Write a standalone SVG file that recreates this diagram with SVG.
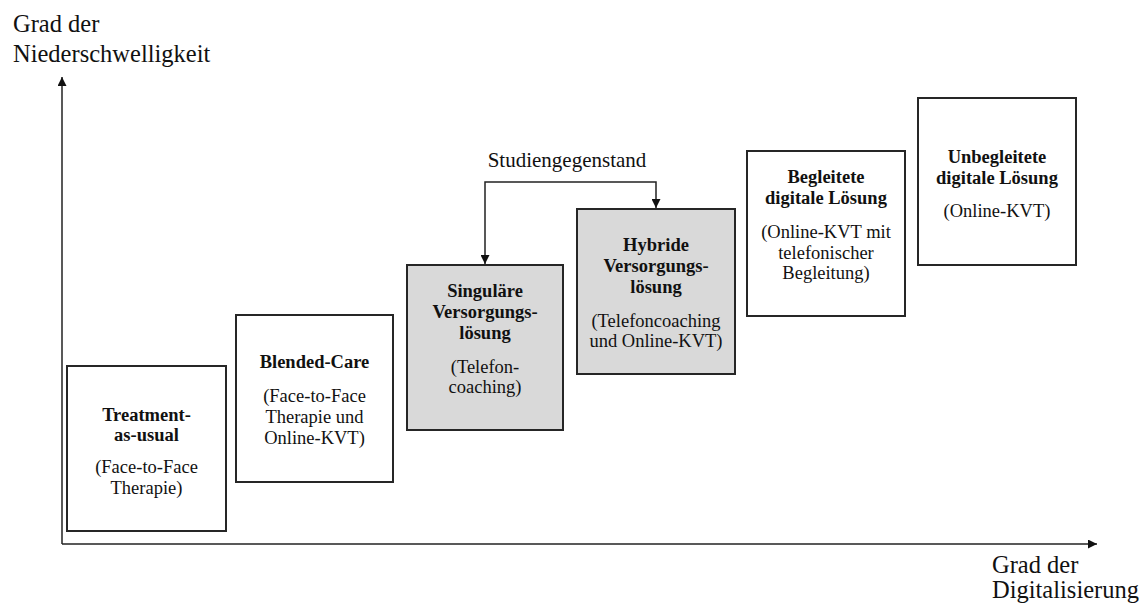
<svg xmlns="http://www.w3.org/2000/svg" width="1147" height="608" viewBox="0 0 1147 608">
<style>
.box{fill:#fff;stroke:#262626;stroke-width:2}
.sel{fill:#d9d9d9;stroke:#262626;stroke-width:2}
.t{font-family:"Liberation Serif","Times New Roman",serif;font-size:18.5px;fill:#111;text-anchor:middle}
.b{font-weight:bold}
.ax{font-family:"Liberation Serif","Times New Roman",serif;font-size:24.5px;fill:#111}
.line{fill:none;stroke:#222;stroke-width:1.5}
</style>
<defs>
<marker id="arr" viewBox="0 0 10 10" refX="10" refY="5" markerWidth="11" markerHeight="9" markerUnits="userSpaceOnUse" orient="auto-start-reverse">
<path d="M0,0 L10,5 L0,10 Z" fill="#111"/>
</marker>
</defs>
<rect width="1147" height="608" fill="#fff"/>
<g id="axes">
<path class="line" d="M62,544 V77" marker-end="url(#arr)"/>
<path class="line" d="M62,544 H1097" marker-end="url(#arr)"/>
<text class="ax" x="13" y="32">Grad der</text>
<text class="ax" x="13" y="62">Niederschwelligkeit</text>
<text class="ax" x="992" y="573">Grad der</text>
<text class="ax" x="992" y="598">Digitalisierung</text>
</g>
<g id="connectors">
<path class="line" d="M485,264 V182 H656 V208" marker-start="url(#arr)" marker-end="url(#arr)" stroke-width="2"/>
<text class="t" x="567" y="167" style="font-size:21px">Studiengegenstand</text>
</g>
<g id="n1">
<rect class="box" x="67" y="366" width="159" height="165"/>
<text class="t b" x="146.5" y="421">Treatment-</text>
<text class="t b" x="146.5" y="441">as-usual</text>
<text class="t" x="146.5" y="473">(Face-to-Face</text>
<text class="t" x="146.5" y="494">Therapie)</text>
</g>
<g id="n2">
<rect class="box" x="236" y="315" width="157" height="167"/>
<text class="t b" x="314.5" y="368">Blended-Care</text>
<text class="t" x="314.5" y="402">(Face-to-Face</text>
<text class="t" x="314.5" y="423">Therapie und</text>
<text class="t" x="314.5" y="444">Online-KVT)</text>
</g>
<g id="n3">
<rect class="sel" x="407" y="265" width="156" height="165"/>
<text class="t b" x="485" y="297">Singuläre</text>
<text class="t b" x="485" y="318">Versorgungs-</text>
<text class="t b" x="485" y="339">lösung</text>
<text class="t" x="485" y="373">(Telefon-</text>
<text class="t" x="485" y="393">coaching)</text>
</g>
<g id="n4">
<rect class="sel" x="577" y="209" width="158" height="165"/>
<text class="t b" x="656" y="251">Hybride</text>
<text class="t b" x="656" y="272">Versorgungs-</text>
<text class="t b" x="656" y="293">lösung</text>
<text class="t" x="656" y="327">(Telefoncoaching</text>
<text class="t" x="656" y="347">und Online-KVT)</text>
</g>
<g id="n5">
<rect class="box" x="747" y="151" width="158" height="165"/>
<text class="t b" x="826" y="183">Begleitete</text>
<text class="t b" x="826" y="204">digitale Lösung</text>
<text class="t" x="826" y="238">(Online-KVT mit</text>
<text class="t" x="826" y="259">telefonischer</text>
<text class="t" x="826" y="279">Begleitung)</text>
</g>
<g id="n6">
<rect class="box" x="918" y="98" width="158" height="167"/>
<text class="t b" x="997" y="163">Unbegleitete</text>
<text class="t b" x="997" y="184">digitale Lösung</text>
<text class="t" x="997" y="217">(Online-KVT)</text>
</g>
</svg>
